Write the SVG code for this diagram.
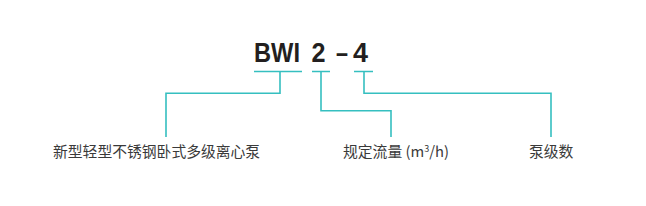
<svg xmlns="http://www.w3.org/2000/svg" width="646" height="206" viewBox="0 0 646 206">
<style>
.code{font-family:"Liberation Sans",Arial,sans-serif;font-weight:bold;font-size:27.5px;fill:#231f20}
.lbl{font-family:"Noto Sans CJK SC","Liberation Sans",sans-serif;font-size:14.8px;fill:#3a3a3a}
.ln{fill:none;stroke:#35bfc0;stroke-width:1.6}
</style>
<rect width="646" height="206" fill="#ffffff"/>
<g id="code">
<text class="code" x="254" y="62" textLength="46" lengthAdjust="spacingAndGlyphs">BWI</text>
<text class="code" x="311.5" y="62" textLength="14" lengthAdjust="spacingAndGlyphs">2</text>
<text class="code" x="336" y="62" textLength="12" lengthAdjust="spacingAndGlyphs">–</text>
<text class="code" x="353" y="62" textLength="15" lengthAdjust="spacingAndGlyphs">4</text>
</g>
<g id="connectors">
<path class="ln" d="M254 71.5H302M280 71.5V93.3H166V137"/>
<path class="ln" d="M312 71.5H330M321 71.5V110.7H391V137"/>
<path class="ln" d="M354 71.5H373M364 71.5V93.3H551V137"/>
</g>
<g id="label1"><text class="lbl" x="53" y="157">新型轻型不锈钢卧式多级离心泵</text></g>
<g id="label2"><text class="lbl" x="343" y="157">规定流量 (m<tspan font-size="9" dy="-5">3</tspan><tspan dy="5">/h)</tspan></text></g>
<g id="label3"><text class="lbl" x="529" y="157">泵级数</text></g>
</svg>
